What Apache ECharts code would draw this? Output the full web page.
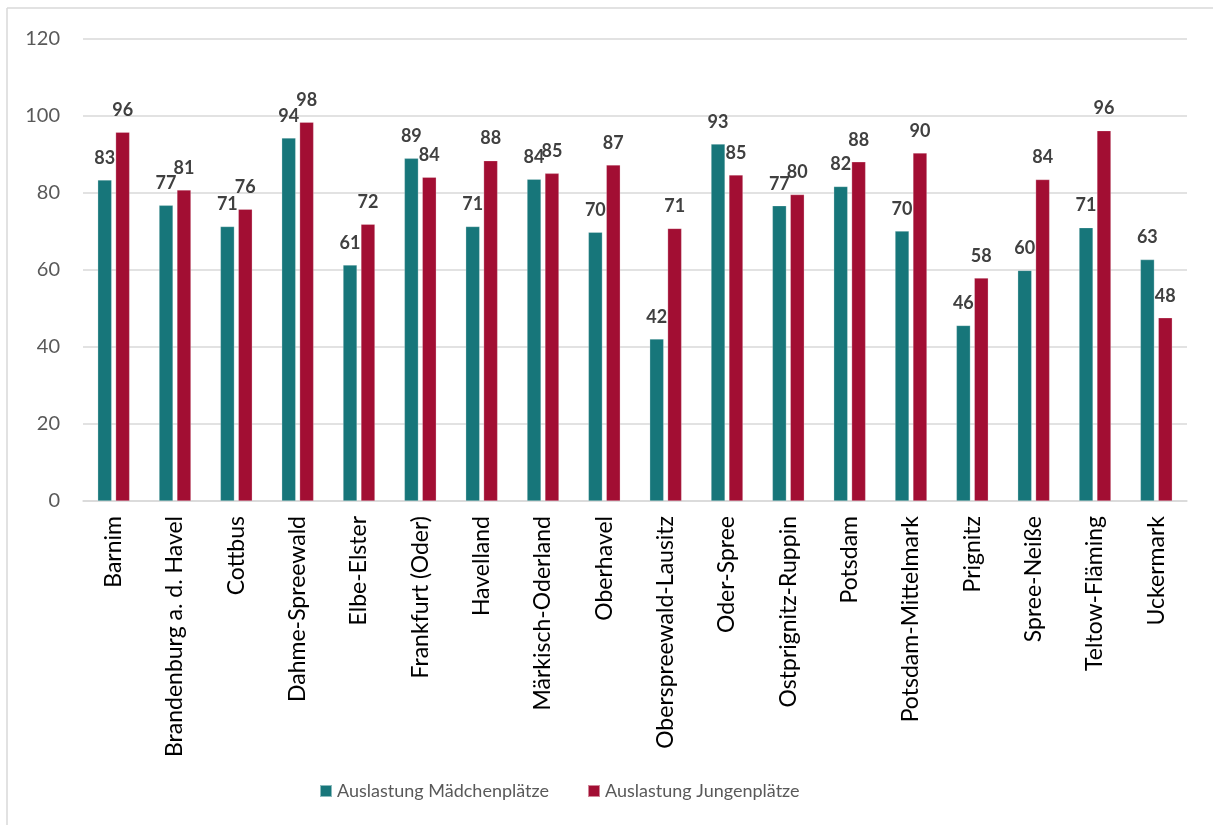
<!DOCTYPE html>
<html>
<head>
<meta charset="utf-8">
<script src="https://cdn.jsdelivr.net/npm/echarts@6/dist/echarts.min.js"></script>
<style>
html,body{margin:0;padding:0;background:#fff;}
#chart{width:1213px;height:825px;}
</style>
</head>
<body>
<div id="chart"></div>
<script>
const categories = ["Barnim","Brandenburg a. d. Havel","Cottbus","Dahme-Spreewald","Elbe-Elster","Frankfurt (Oder)","Havelland","Märkisch-Oderland","Oberhavel","Oberspreewald-Lausitz","Oder-Spree","Ostprignitz-Ruppin","Potsdam","Potsdam-Mittelmark","Prignitz","Spree-Neiße","Teltow-Fläming","Uckermark"];
const maedchen = [83.4, 76.8, 71.3, 94.3, 61.3, 89.0, 71.3, 83.6, 69.8, 42.1, 92.7, 76.7, 81.7, 70.1, 45.6, 59.9, 71.0, 62.7];
const jungen   = [95.8, 80.8, 75.8, 98.4, 71.9, 84.1, 88.4, 85.1, 87.3, 70.8, 84.7, 79.6, 88.1, 90.4, 57.9, 83.5, 96.2, 47.6];
const yTicks = [0, 20, 40, 60, 80, 100, 120];
const seriesNames = ["Auslastung Mädchenplätze", "Auslastung Jungenplätze"];

const FONT = 'Lato';
const chart = echarts.init(document.getElementById('chart'), null, {renderer:'canvas'});
const lbl = {
  show: true, position: 'top', distance: 13,
  fontFamily: FONT, fontWeight: 'bold', fontSize: 18, color: '#404040',
  formatter: p => Math.round(p.value)
};
chart.setOption({
  backgroundColor: '#fff',
  animation: false,
  textStyle: {fontFamily: FONT},
  graphic: [
    {type:'line', shape:{x1:7, y1:8, x2:1213, y2:8}, style:{stroke:'#d9d9d9', lineWidth:1.5}},
    {type:'line', shape:{x1:7, y1:8, x2:7, y2:825}, style:{stroke:'#d9d9d9', lineWidth:1.5}}
  ],
  grid: {left: 83, right: 26, top: 39, bottom: 324, containLabel: false},
  legend: {
    top: 781, left: 319, padding: 0,
    itemWidth: 12, itemHeight: 12, itemGap: 38,
    icon: 'rect',
    textStyle: {fontFamily: FONT, fontSize: 18, color: '#595959', lineHeight: 20},
    data: seriesNames
  },
  xAxis: {
    type: 'category', data: categories,
    axisLine: {lineStyle: {color: '#d9d9d9', width: 1.5}},
    axisTick: {show: false},
    axisLabel: {rotate: 90, interval: 0, fontFamily: FONT, fontSize: 23, color: '#000', margin: 15}
  },
  yAxis: {
    type: 'value', min: 0, max: 120, interval: 20,
    axisLine: {show: false}, axisTick: {show: false},
    splitLine: {lineStyle: {color: '#d9d9d9', width: 1.5}},
    axisLabel: {fontFamily: FONT, fontSize: 20, color: '#595959', margin: 23,
      formatter: v => yTicks.includes(v) ? String(v) : ''}
  },
  series: [
    {name: seriesNames[0], type: 'bar', data: maedchen, barWidth: 14, barGap: '28%',
     itemStyle: {color: '#17767a', borderColor: 'rgba(255,255,255,0.5)', borderWidth: 0.5},
     label: lbl, labelLayout: {moveOverlap: 'shiftX'}},
    {name: seriesNames[1], type: 'bar', data: jungen, barWidth: 14,
     itemStyle: {color: '#a20e33', borderColor: 'rgba(255,255,255,0.5)', borderWidth: 0.5},
     label: lbl, labelLayout: {moveOverlap: 'shiftX'}}
  ]
});
</script>
</body>
</html>
